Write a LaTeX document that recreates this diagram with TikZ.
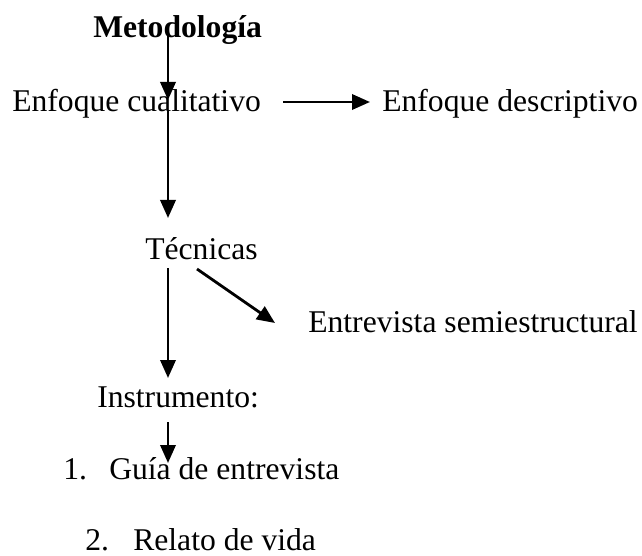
\documentclass[tikz,border=0pt]{standalone}
\usepackage{fontspec}
\setmainfont{Liberation Serif}
\usepackage{tikz}
\usetikzlibrary{arrows.meta}

\tikzset{
  texto/.style={anchor=base west, inner sep=0pt, font=\fontsize{22.5}{27}\selectfont},
  flecha/.style={line width=2pt, -{Triangle[length=0.45cm, width=0.38cm]}}
}

\begin{document}
\begin{tikzpicture}
\useasboundingbox (0,0) rectangle (16.05,13.875);

% Metodologia
\node[texto, font=\fontsize{22.5}{27}\selectfont\bfseries] (metod) at (2.325,12.925) {Metodología};
\node[texto] (cual) at (0.3,11.075) {Enfoque cualitativo};
\node[texto] (desc) at (9.55,11.075) {Enfoque descriptivo};
\coordinate (m1) at (4.2,13.05);
\coordinate (m2) at (4.2,11.375);
\draw[flecha] (m1) -- (m2);
\coordinate (c1) at (7.075,11.325);
\coordinate (d1) at (9.25,11.325);
\draw[flecha] (c1) -- (d1);

% Tecnicas
\node[texto] (tec) at (3.625,7.4) {Técnicas};
\node[texto] (entr) at (7.7,5.575) {Entrevista semiestructural};
\coordinate (c2) at (4.2,11.125);
\coordinate (t0) at (4.2,8.425);
\draw[flecha] (c2) -- (t0);
\coordinate (t1) at (4.925,7.15);
\coordinate (e1) at (6.875,5.8);
\draw[flecha] (t1) -- (e1);

% Instrumento
\node[texto] (instr) at (2.425,3.7) {Instrumento:};
\coordinate (t2) at (4.2,7.175);
\coordinate (i0) at (4.2,4.425);
\draw[flecha] (t2) -- (i0);
\coordinate (i1) at (4.2,3.325);
\coordinate (g0) at (4.2,2.3);
\draw[flecha] (i1) -- (g0);

\node[texto] (num1) at (1.575,1.9) {1.};
\node[texto] (guia) at (2.725,1.9) {Guía de entrevista};
\node[texto] (num2) at (2.125,0.125) {2.};
\node[texto] (relato) at (3.325,0.125) {Relato de vida};

\end{tikzpicture}
\end{document}
